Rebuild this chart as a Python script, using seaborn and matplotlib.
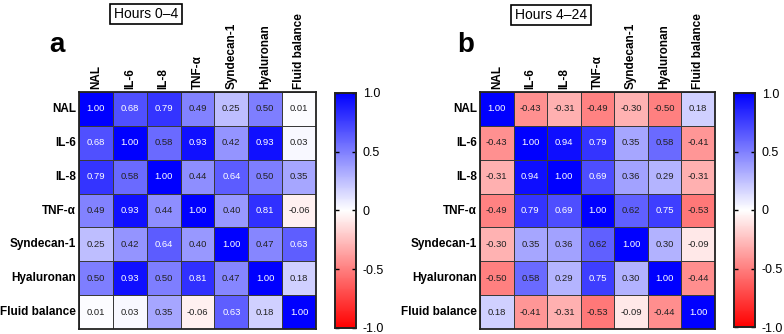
import numpy as np
import pandas as pd
import matplotlib
matplotlib.use('Agg')
import matplotlib.pyplot as plt
import seaborn as sns
from matplotlib.colors import LinearSegmentedColormap

labels = ['NAL', 'IL-6', 'IL-8', 'TNF-α', 'Syndecan-1', 'Hyaluronan', 'Fluid balance']

corr_0_4 = [
    [1.00, 0.68, 0.79, 0.49, 0.25, 0.50, 0.01],
    [0.68, 1.00, 0.58, 0.93, 0.42, 0.93, 0.03],
    [0.79, 0.58, 1.00, 0.44, 0.64, 0.50, 0.35],
    [0.49, 0.93, 0.44, 1.00, 0.40, 0.81, -0.06],
    [0.25, 0.42, 0.64, 0.40, 1.00, 0.47, 0.63],
    [0.50, 0.93, 0.50, 0.81, 0.47, 1.00, 0.18],
    [0.01, 0.03, 0.35, -0.06, 0.63, 0.18, 1.00],
]

corr_4_24 = [
    [1.00, -0.43, -0.31, -0.49, -0.30, -0.50, 0.18],
    [-0.43, 1.00, 0.94, 0.79, 0.35, 0.58, -0.41],
    [-0.31, 0.94, 1.00, 0.69, 0.36, 0.29, -0.31],
    [-0.49, 0.79, 0.69, 1.00, 0.62, 0.75, -0.53],
    [-0.30, 0.35, 0.36, 0.62, 1.00, 0.30, -0.09],
    [-0.50, 0.58, 0.29, 0.75, 0.30, 1.00, -0.44],
    [0.18, -0.41, -0.31, -0.53, -0.09, -0.44, 1.00],
]

titles = ['Hours 0–4', 'Hours 4–24']
letters = ['a', 'b']
cbar_ticks = [-1.0, -0.5, 0, 0.5, 1.0]
cbar_ticklabels = ['-1.0', '-0.5', '0', '0.5', '1.0']

plt.rcParams['font.family'] = ['Liberation Sans', 'DejaVu Sans']

W, H = 784, 334
fig = plt.figure(figsize=(W / 100, H / 100), dpi=100)

cmap = LinearSegmentedColormap.from_list('rwb', ['#ff0000', '#ffffff', '#0000ff'])


def px(x0, y0, x1, y1):
    return [x0 / W, 1 - y1 / H, (x1 - x0) / W, (y1 - y0) / H]


panels = [
    (corr_0_4, px(79, 92, 316, 329), px(335, 93, 356, 328), (146, 14), (57, 45)),
    (corr_4_24, px(480, 92, 715, 329), px(734, 93, 755, 327), (551, 15), (466, 45)),
]

for i, (mat, hm_pos, cb_pos, title_xy, letter_xy) in enumerate(panels):
    df = pd.DataFrame(mat, index=labels, columns=labels)
    ax = fig.add_axes(hm_pos)
    cax = fig.add_axes(cb_pos)
    sns.heatmap(df, ax=ax, cbar_ax=cax, cmap=cmap, vmin=-1, vmax=1,
                annot=True, fmt='.2f', annot_kws={'fontsize': 6.8},
                linewidths=0.6, linecolor='#3a3a3a', square=False)
    # text colour: white on dark cells
    for t in ax.texts:
        v = float(t.get_text())
        t.set_color('white' if v >= 0.625 else '#222222')
    ax.xaxis.tick_top()
    ax.set_xticklabels(labels, rotation=90, fontweight='bold', fontsize=8.5)
    ax.set_yticklabels(labels, rotation=0, fontweight='bold', fontsize=8.5)
    ax.tick_params(length=0, pad=2)
    ax.set_xlabel('')
    ax.set_ylabel('')
    for s in ax.spines.values():
        s.set_visible(True)
        s.set_linewidth(1.3)
        s.set_color('#222222')

    cax.set_yticks(cbar_ticks)
    cax.set_yticklabels(cbar_ticklabels)
    cax.tick_params(axis='y', direction='in', length=3, width=1, labelsize=9,
                    left=True, right=True, pad=5)
    for s in cax.spines.values():
        s.set_visible(True)
        s.set_linewidth(1.2)
        s.set_color('#222222')

    fig.text(title_xy[0] / W, 1 - title_xy[1] / H, titles[i], ha='center', va='center',
             fontsize=10,
             bbox=dict(boxstyle='square,pad=0.25', facecolor='white', edgecolor='black', linewidth=1.2))
    fig.text(letter_xy[0] / W, 1 - letter_xy[1] / H, letters[i], ha='center', va='center',
             fontsize=20, fontweight='bold')

fig.savefig('out.png', dpi=100)
